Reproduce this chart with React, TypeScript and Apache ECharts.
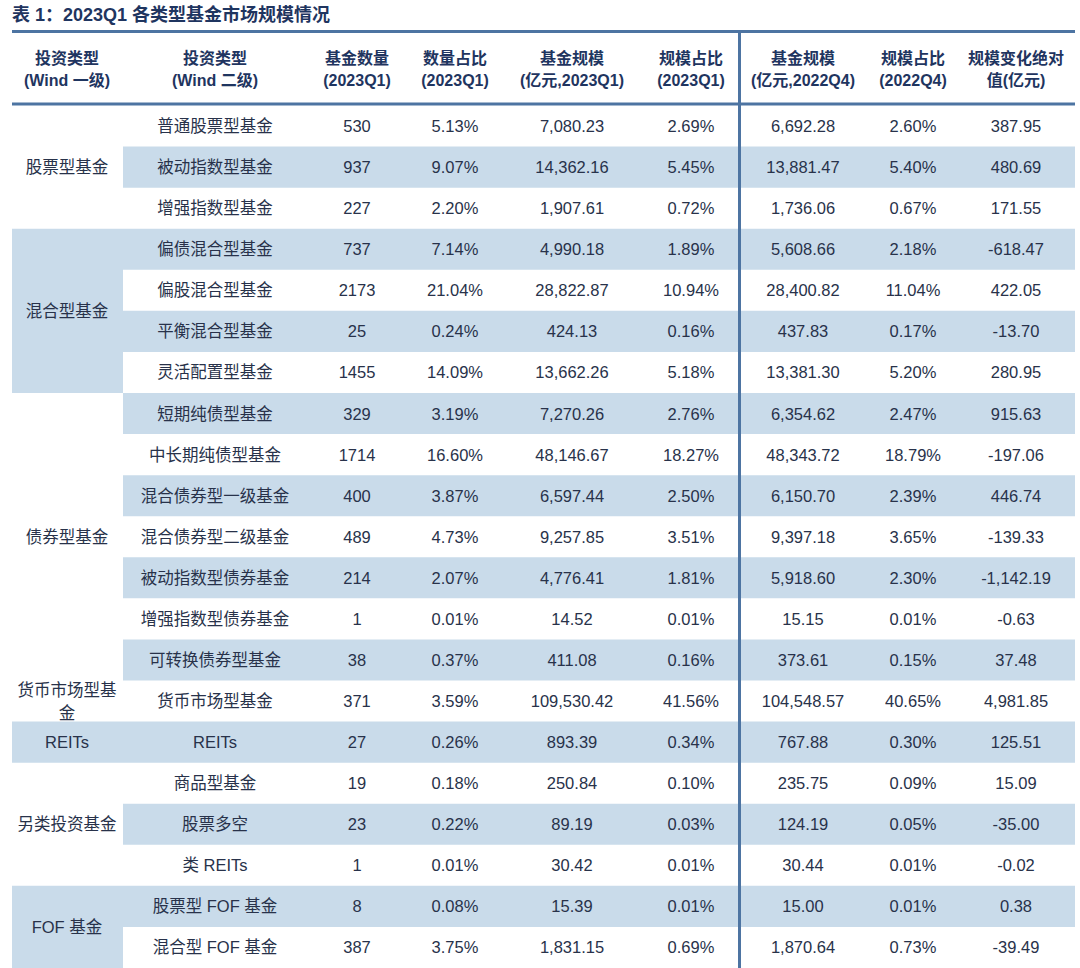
import React, { useEffect, useRef } from "react";
import * as echarts from "echarts";

// ---------- data ----------
const title = "表 1：2023Q1 各类型基金市场规模情况";
const headerTop = ["投资类型", "投资类型", "基金数量", "数量占比", "基金规模", "规模占比", "基金规模", "规模占比", "规模变化绝对"];
const headerBottom = ["(Wind 一级)", "(Wind 二级)", "(2023Q1)", "(2023Q1)", "(亿元,2023Q1)", "(2023Q1)", "(亿元,2022Q4)", "(2022Q4)", "值(亿元)"];

const groups = ["股票型基金", "混合型基金", "债券型基金", "货币市场型基金", "REITs", "另类投资基金", "FOF 基金"];
const groupSizes = [3, 4, 7, 1, 1, 3, 2];

const subTypes = [
  "普通股票型基金", "被动指数型基金", "增强指数型基金",
  "偏债混合型基金", "偏股混合型基金", "平衡混合型基金", "灵活配置型基金",
  "短期纯债型基金", "中长期纯债型基金", "混合债券型一级基金", "混合债券型二级基金", "被动指数型债券基金", "增强指数型债券基金", "可转换债券型基金",
  "货币市场型基金",
  "REITs",
  "商品型基金", "股票多空", "类 REITs",
  "股票型 FOF 基金", "混合型 FOF 基金",
];
const fundCount = [530, 937, 227, 737, 2173, 25, 1455, 329, 1714, 400, 489, 214, 1, 38, 371, 27, 19, 23, 1, 8, 387];
const countShare2023Q1 = [5.13, 9.07, 2.2, 7.14, 21.04, 0.24, 14.09, 3.19, 16.6, 3.87, 4.73, 2.07, 0.01, 0.37, 3.59, 0.26, 0.18, 0.22, 0.01, 0.08, 3.75];
const scale2023Q1 = [7080.23, 14362.16, 1907.61, 4990.18, 28822.87, 424.13, 13662.26, 7270.26, 48146.67, 6597.44, 9257.85, 4776.41, 14.52, 411.08, 109530.42, 893.39, 250.84, 89.19, 30.42, 15.39, 1831.15];
const scaleShare2023Q1 = [2.69, 5.45, 0.72, 1.89, 10.94, 0.16, 5.18, 2.76, 18.27, 2.5, 3.51, 1.81, 0.01, 0.16, 41.56, 0.34, 0.1, 0.03, 0.01, 0.01, 0.69];
const scale2022Q4 = [6692.28, 13881.47, 1736.06, 5608.66, 28400.82, 437.83, 13381.3, 6354.62, 48343.72, 6150.7, 9397.18, 5918.6, 15.15, 373.61, 104548.57, 767.88, 235.75, 124.19, 30.44, 15.0, 1870.64];
const scaleShare2022Q4 = [2.6, 5.4, 0.67, 2.18, 11.04, 0.17, 5.2, 2.47, 18.79, 2.39, 3.65, 2.3, 0.01, 0.15, 40.65, 0.3, 0.09, 0.05, 0.01, 0.01, 0.73];
const scaleChange = [387.95, 480.69, 171.55, -618.47, 422.05, -13.7, 280.95, 915.63, -197.06, 446.74, -139.33, -1142.19, -0.63, 37.48, 4981.85, 125.51, 15.09, -35.0, -0.02, 0.38, -39.49];

// ---------- layout / style ----------
const W = 1080;
const H = 968;
const LEFT = 12;
const RIGHT = 1075;
const COL1_RIGHT = 123;
const DIVIDER_X = 739.5;
const BODY_TOP = 105.5;
const ROW_H = 41.35;
const COL_X = [67, 215, 357, 455, 572, 691, 803, 913, 1016];
const FONT = "'Liberation Sans', Arial, 'Noto Sans CJK SC', sans-serif";
const BAND = "#c9dbea";
const LINE = "#4d74a2";
const TEXT = "#28324a";
const HEAD = "#1f3560";
const groupShaded = [false, true, false, false, true, false, true];

const fmtNum = (v: number) => v.toLocaleString("en-US", { minimumFractionDigits: 2, maximumFractionDigits: 2 });
const fmtPct = (v: number) => v.toFixed(2) + "%";

function rowCells(i: number): string[] {
  return [
    subTypes[i],
    String(fundCount[i]),
    fmtPct(countShare2023Q1[i]),
    fmtNum(scale2023Q1[i]),
    fmtPct(scaleShare2023Q1[i]),
    fmtNum(scale2022Q4[i]),
    fmtPct(scaleShare2022Q4[i]),
    fmtNum(scaleChange[i]),
  ];
}

export default function App() {
  const ref = useRef<HTMLDivElement>(null);

  useEffect(() => {
    if (!ref.current) return;
    const chart = echarts.init(ref.current, null, { renderer: "svg" });

    const groupData: number[][] = [];
    let start = 0;
    groupSizes.forEach((n, g) => {
      groupData.push([start, start + n, g]);
      start += n;
    });

    const rowRender = (params: any, api: any) => {
      const i = api.value(0);
      const yTop = api.coord([0, i])[1];
      const yBot = api.coord([0, i + 1])[1];
      const yc = (yTop + yBot) / 2;
      const children: any[] = [];
      if (i % 2 === 1) {
        const x0 = api.coord([COL1_RIGHT, i])[0];
        const x1 = api.coord([RIGHT, i])[0];
        children.push({ type: "rect", shape: { x: x0, y: yTop, width: x1 - x0, height: yBot - yTop }, style: { fill: BAND } });
      }
      rowCells(i).forEach((t, c) => {
        children.push({
          type: "text",
          style: {
            text: t,
            x: api.coord([COL_X[c + 1], i])[0],
            y: yc,
            align: "center",
            verticalAlign: "middle",
            fontSize: 16.5,
            fontFamily: FONT,
            fill: TEXT,
          },
        });
      });
      return { type: "group", children };
    };

    const groupRender = (params: any, api: any) => {
      const s = api.value(0);
      const e = api.value(1);
      const g = api.value(2);
      const yTop = api.coord([0, s])[1];
      const yBot = api.coord([0, e])[1];
      const x0 = api.coord([LEFT, s])[0];
      const x1 = api.coord([COL1_RIGHT, s])[0];
      const children: any[] = [];
      if (groupShaded[g]) {
        children.push({ type: "rect", shape: { x: x0, y: yTop, width: x1 - x0, height: yBot - yTop }, style: { fill: BAND } });
      }
      children.push({
        type: "text",
        style: {
          text: groups[g],
          x: api.coord([COL_X[0], s])[0],
          y: (yTop + yBot) / 2,
          align: "center",
          verticalAlign: "middle",
          width: 102,
          overflow: "break",
          lineHeight: 23,
          fontSize: 16.5,
          fontFamily: FONT,
          fill: TEXT,
        },
      });
      return { type: "group", children };
    };

    const headerGraphics: any[] = [];
    COL_X.forEach((x, c) => {
      headerGraphics.push({
        type: "text",
        z: 100,
        style: { text: headerTop[c], x, y: 58, align: "center", verticalAlign: "middle", fontSize: 16, fontWeight: "bold", fontFamily: FONT, fill: HEAD },
      });
      headerGraphics.push({
        type: "text",
        z: 100,
        style: { text: headerBottom[c], x, y: 80, align: "center", verticalAlign: "middle", fontSize: 16, fontWeight: "bold", fontFamily: FONT, fill: HEAD },
      });
    });

    chart.setOption({
      animation: false,
      grid: { left: 0, top: BODY_TOP, width: W, height: ROW_H * subTypes.length, containLabel: false },
      xAxis: { type: "value", min: 0, max: W, show: false },
      yAxis: { type: "value", min: 0, max: subTypes.length, inverse: true, show: false },
      series: [
        { type: "custom", renderItem: rowRender, data: subTypes.map((_, i) => [i]), clip: false, silent: true },
        { type: "custom", renderItem: groupRender, data: groupData, clip: false, silent: true },
      ],
      graphic: [
        {
          type: "text",
          z: 100,
          style: { text: title, x: LEFT, y: 15, verticalAlign: "middle", fontSize: 18, fontWeight: "bold", fontFamily: FONT, fill: HEAD },
        },
        { type: "rect", z: 100, shape: { x: LEFT, y: 30, width: RIGHT - LEFT, height: 3 }, style: { fill: LINE } },
        { type: "rect", z: 100, shape: { x: LEFT, y: 102.5, width: RIGHT - LEFT, height: 3 }, style: { fill: LINE } },
        { type: "rect", z: 100, shape: { x: DIVIDER_X - 1.5, y: 30, width: 3, height: H - 30 }, style: { fill: LINE } },
        ...headerGraphics,
      ],
    });

    return () => chart.dispose();
  }, []);

  return <div ref={ref} style={{ position: "fixed", left: 0, top: 0, width: W, height: H, background: "#fff" }} />;
}
